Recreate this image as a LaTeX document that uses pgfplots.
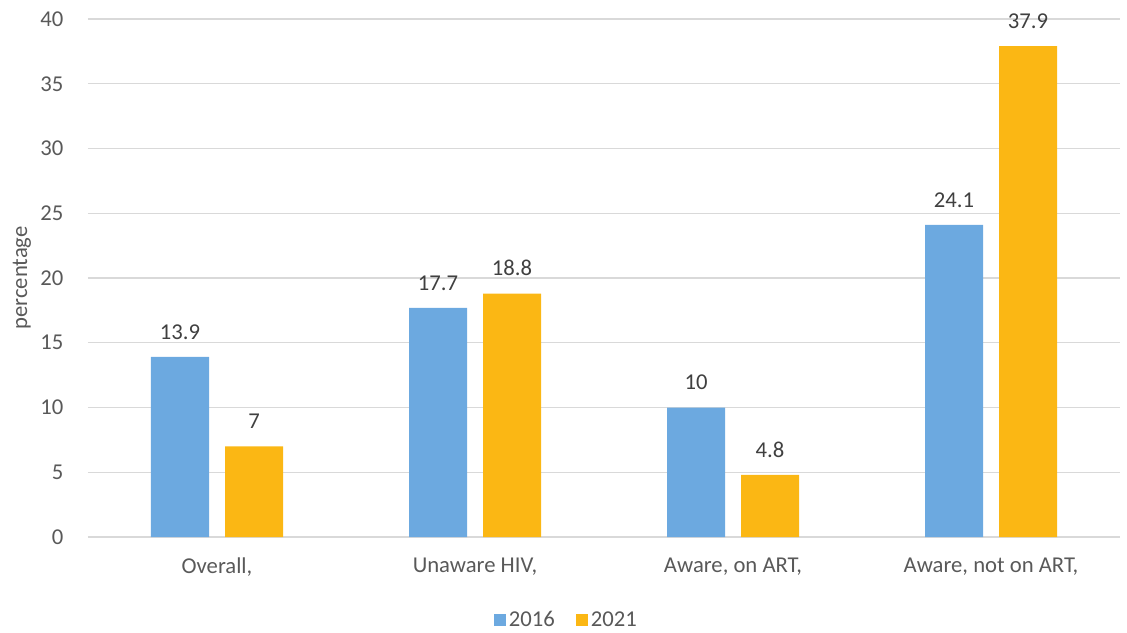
\documentclass[border=0pt]{standalone}
\usepackage{pgfplots}
\pgfplotsset{compat=1.18}
\usepackage{fontspec}
\setmainfont{Carlito}
\definecolor{blueS}{HTML}{6CA9E0}
\definecolor{orangeS}{HTML}{FBB714}
\definecolor{gridG}{HTML}{D9D9D9}
\definecolor{tickT}{HTML}{595959}
\definecolor{labT}{HTML}{404040}
\begin{document}
\begin{tikzpicture}
\useasboundingbox (-66pt,-71.25pt) rectangle (779.25pt,402.75pt);
\begin{axis}[
  scale only axis,
  width=774pt, height=388.5pt,
  ymin=0, ymax=40, ytick={0,5,...,40},
  xmin=-0.5, xmax=3.5,
  xtick={0,1,2,3},
  xticklabels={{Overall,},{Unaware HIV,},{Aware, on ART,},{Aware, not on ART,}},
  axis line style={draw=none},
  axis x line*=bottom,
  x axis line style={draw=gridG, line width=0.9pt},
  axis y line*=left,
  y axis line style={draw=none},
  major tick length=0pt,
  ymajorgrids,
  grid style={draw=gridG, line width=0.9pt},
  tick label style={font=\fontsize{17}{20}\selectfont, text=tickT},
  yticklabel style={xshift=-15pt},
  xticklabel style={yshift=-12pt},
  /pgf/number format/assume math mode=true,
  ylabel={percentage},
  every axis y label/.style={at={(axis description cs:-0.064,0.5)}, anchor=center, rotate=90,
    font=\fontsize{17}{20}\selectfont, text=tickT},
  ybar, bar width=43.5pt,
  nodes near coords,
  every node near coord/.append style={font=\fontsize{17}{20}\selectfont, text=labT, yshift=9.5pt},
  legend style={at={(0.464,-0.16)}, anchor=center, draw=none, legend columns=2,
    font=\fontsize{17}{20}\selectfont, text=tickT,
    /tikz/every even column/.append style={column sep=14pt}},
  legend image code/.code={\fill[#1] (0pt,-4.5pt) rectangle (9pt,4.5pt);},
]
\addplot[fill=blueS, draw=none, bar shift=-27.75pt] coordinates {(0,13.9) (1,17.7) (2,10) (3,24.1)};
\addplot[fill=orangeS, draw=none, bar shift=27.75pt] coordinates {(0,7) (1,18.8) (2,4.8) (3,37.9)};
\legend{2016,2021}
\end{axis}
\end{tikzpicture}
\end{document}
